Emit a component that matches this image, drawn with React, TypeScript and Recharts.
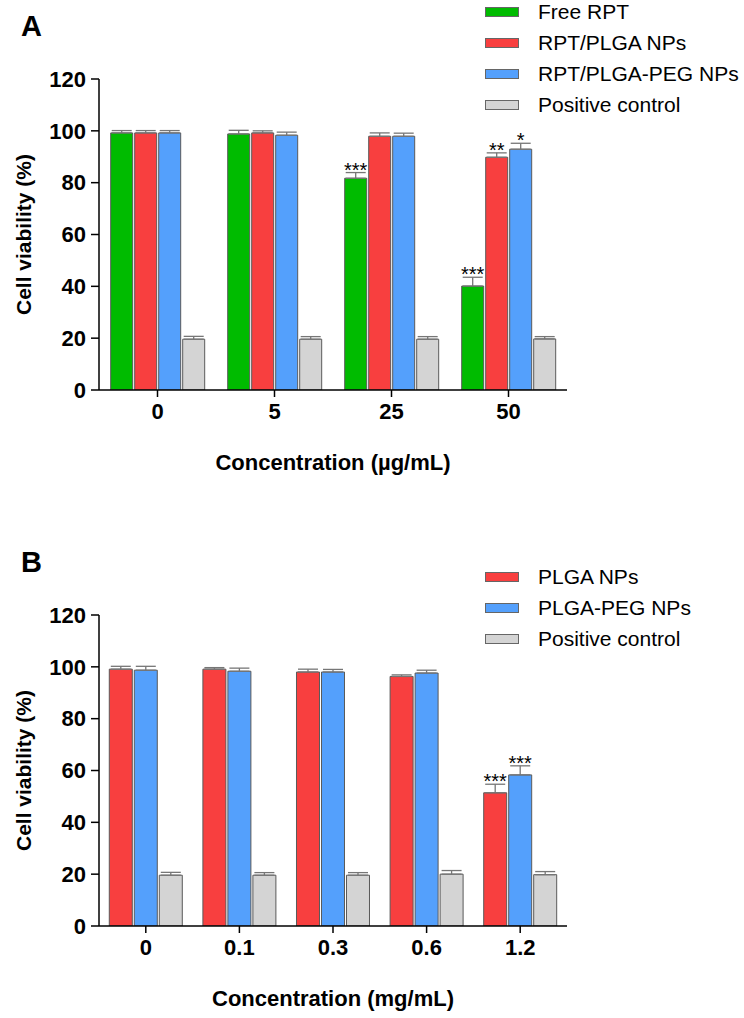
import React from "react";
import { BarChart, Bar, XAxis, YAxis, ErrorBar, LabelList, Legend, Label } from "recharts";

const FONT = "'Liberation Sans', Arial, Helvetica, sans-serif";

// Panel A – free drug vs. loaded nanoparticles
const concA = ["0", "5", "25", "50"];
const freeRpt = [99.2, 98.8, 81.7, 40.1];
const freeRptErr = [0.9, 1.4, 2.2, 3.4];
const rptPlga = [99.2, 99.2, 97.9, 89.8];
const rptPlgaErr = [0.9, 0.8, 1.3, 1.7];
const rptPlgaPeg = [99.2, 98.3, 97.9, 92.9];
const rptPlgaPegErr = [0.9, 1.2, 1.2, 2.3];
const controlA = [19.6, 19.6, 19.6, 19.7];
const controlAErr = [1.1, 1.0, 1.0, 0.9];
const freeRptStars = ["", "", "***", "***"];
const rptPlgaStars = ["", "", "", "**"];
const rptPlgaPegStars = ["", "", "", "*"];

// Panel B – blank nanoparticles
const concB = ["0", "0.1", "0.3", "0.6", "1.2"];
const plga = [99.1, 99.1, 98.0, 96.3, 51.4];
const plgaErr = [1.1, 0.6, 1.1, 0.6, 3.3];
const plgaPeg = [98.7, 98.3, 98.0, 97.6, 58.3];
const plgaPegErr = [1.5, 1.2, 1.0, 1.1, 3.5];
const controlB = [19.6, 19.6, 19.6, 20.0, 19.8];
const controlBErr = [1.1, 1.0, 1.0, 1.4, 1.2];
const plgaStars = ["", "", "", "", "***"];
const plgaPegStars = ["", "", "", "", "***"];

const yTicks = [0, 20, 40, 60, 80, 100, 120];

const GREEN = "#00bb00";
const RED = "#f83f3f";
const BLUE = "#54a0fc";
const GREY = "#d4d4d4";

const W = 744;
const H = 482;
const TOP = 79;
const PLOT_H = 311;
const LEFT = 99;
const RIGHT = 177;

type Series = { key: string; name: string; color: string; values: number[]; err: number[]; stars: string[] };

const seriesA: Series[] = [
  { key: "free", name: "Free RPT", color: GREEN, values: freeRpt, err: freeRptErr, stars: freeRptStars },
  { key: "plga", name: "RPT/PLGA NPs", color: RED, values: rptPlga, err: rptPlgaErr, stars: rptPlgaStars },
  { key: "peg", name: "RPT/PLGA-PEG NPs", color: BLUE, values: rptPlgaPeg, err: rptPlgaPegErr, stars: rptPlgaPegStars },
  { key: "ctrl", name: "Positive control", color: GREY, values: controlA, err: controlAErr, stars: [] },
];

const seriesB: Series[] = [
  { key: "plga", name: "PLGA NPs", color: RED, values: plga, err: plgaErr, stars: plgaStars },
  { key: "peg", name: "PLGA-PEG NPs", color: BLUE, values: plgaPeg, err: plgaPegErr, stars: plgaPegStars },
  { key: "ctrl", name: "Positive control", color: GREY, values: controlB, err: controlBErr, stars: [] },
];

function buildRows(cats: string[], series: Series[]) {
  return cats.map((c, i) => {
    const row: any = { conc: c };
    series.forEach((s) => {
      row[s.key] = s.values[i];
      row[s.key + "Err"] = [0, s.err[i]];
      row[s.key + "Star"] = s.stars[i] || "";
    });
    return row;
  });
}

// legend keeps the series order (recharts sorts by name otherwise)
const makeLegend = (series: Series[]) => () => (
  <div>
    {series.map((s) => (
      <div key={s.key} style={{ height: 31, display: "flex", alignItems: "center" }}>
        <span
          style={{
            display: "inline-block",
            width: 34,
            height: 10,
            background: s.color,
            border: "1px solid #666",
            boxSizing: "border-box",
            marginRight: 19,
          }}
        />
        <span style={{ fontSize: 21, fontFamily: FONT, color: "#000", whiteSpace: "nowrap" }}>{s.name}</span>
      </div>
    ))}
  </div>
);

function Panel({ cats, series, xTitle, gap, legendTop, top, letter }: any) {
  const rows = buildRows(cats, series);
  const starContent = (s: Series) => (props: any) => {
    const { x, y, width, value, index } = props;
    if (!value) return null;
    const errPx = (s.err[index] * PLOT_H) / 120;
    return (
      <text x={x + width / 2} y={y - errPx + 4} textAnchor="middle" fontSize={20} fontFamily={FONT} fill="#000">
        {value}
      </text>
    );
  };
  return (
    <div style={{ position: "absolute", left: 0, top, width: W, height: H }}>
      <div
        style={{
          position: "absolute",
          left: 21,
          top: 12,
          fontFamily: FONT,
          fontWeight: "bold",
          fontSize: 29,
          lineHeight: "29px",
          zIndex: 2,
        }}
      >
        {letter}
      </div>
      <BarChart
        width={W}
        height={H}
        data={rows}
        margin={{ top: TOP, right: RIGHT, bottom: H - TOP - PLOT_H - 30, left: 0 }}
        barCategoryGap={gap}
        barGap={2}
      >
        <XAxis
          dataKey="conc"
          height={30}
          axisLine={{ stroke: "#000", strokeWidth: 1.5 }}
          tickLine={{ stroke: "#000", strokeWidth: 1.5 }}
          tickSize={7}
          tickMargin={6}
          tick={{ fontSize: 22, fontWeight: "bold", fill: "#000", fontFamily: FONT }}
        >
          <Label
            content={() => (
              <text x={333} y={470} textAnchor="middle" fontSize={22} fontWeight="bold" fontFamily={FONT} fill="#000">
                {xTitle}
              </text>
            )}
          />
        </XAxis>
        <YAxis
          width={LEFT}
          domain={[0, 120]}
          ticks={yTicks}
          interval={0}
          allowDataOverflow
          axisLine={{ stroke: "#000", strokeWidth: 1.5 }}
          tickLine={{ stroke: "#000", strokeWidth: 1.5 }}
          tickSize={8}
          tickMargin={5}
          tick={{ fontSize: 22, fontWeight: "bold", fill: "#000", fontFamily: FONT }}
        >
          <Label
            content={() => (
              <text
                transform={`translate(31, ${TOP + PLOT_H / 2}) rotate(-90)`}
                textAnchor="middle"
                fontSize={21}
                fontWeight="bold"
                fontFamily={FONT}
                fill="#000"
              >
                Cell viability (%)
              </text>
            )}
          />
        </YAxis>
        <Legend
          layout="horizontal"
          verticalAlign="middle"
          align="center"
          content={makeLegend(series)}
          wrapperStyle={{ position: "absolute", left: 485, top: legendTop, width: 259, height: "auto" }}
        />
        {series.map((s: Series) => (
          <Bar
            key={s.key}
            dataKey={s.key}
            name={s.name}
            fill={s.color}
            stroke="#5a5a5a"
            strokeWidth={1}
            isAnimationActive={false}
          >
            <ErrorBar
              dataKey={s.key + "Err"}
              direction="y"
              width={10}
              stroke="#767676"
              strokeWidth={1.3}
              isAnimationActive={false}
            />
            <LabelList dataKey={s.key + "Star"} content={starContent(s)} />
          </Bar>
        ))}
      </BarChart>
    </div>
  );
}

export default function App() {
  return (
    <div style={{ position: "absolute", left: 0, top: 0, width: W, height: 1018, background: "#fff" }}>
      <Panel cats={concA} series={seriesA} xTitle="Concentration (µg/mL)" gap="10%" legendTop={-4} top={0} letter="A" />
      <Panel cats={concB} series={seriesB} xTitle="Concentration (mg/mL)" gap="11%" legendTop={25} top={536} letter="B" />
    </div>
  );
}
